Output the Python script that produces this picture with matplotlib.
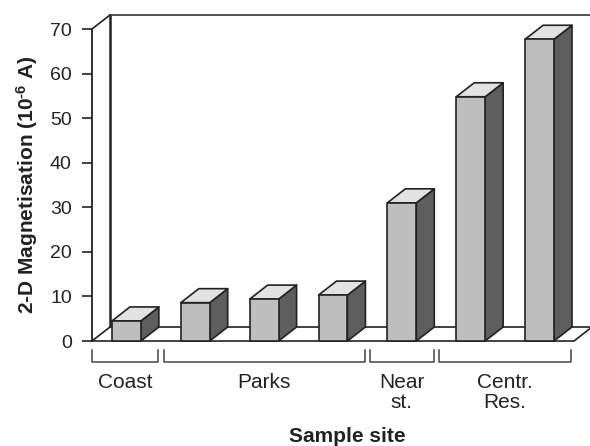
import matplotlib
matplotlib.use("Agg")
import matplotlib.pyplot as plt
from matplotlib.patches import Polygon, Rectangle

plt.rcParams['font.family'] = ['Liberation Sans', 'DejaVu Sans']
plt.rcParams['mathtext.default'] = 'regular'
plt.rcParams['mathtext.fontset'] = 'custom'
plt.rcParams['mathtext.rm'] = 'Liberation Sans:bold'

# ---- data ----
sites = ["Coast", "Park 1", "Park 2", "Park 3", "Near st.", "Centr. Res. 1", "Centr. Res. 2"]
magnetisation = [4.5, 8.6, 9.4, 10.3, 31.0, 54.8, 67.7]
group_labels = ["Coast", "Parks", "Near\nst.", "Centr.\nRes."]
group_spans = [(0, 0), (1, 3), (4, 4), (5, 6)]   # first/last category index
yticks = [0, 10, 20, 30, 40, 50, 60, 70]

# ---- style ----
front_c = "#bebebe"
side_c = "#5e5e5e"
top_c = "#e2e2e2"
edge_c = "#222222"
bar_w = 0.42
depth_x = 0.261   # 3D depth offset in x-data units
depth_y = 3.14    # 3D depth offset in y-data units

fig = plt.figure(figsize=(5.9, 4.46), dpi=100)
ax = fig.add_axes([92/590, 1-341/446, 482/590, 312/446])
ax.set_xlim(-0.5, 6.5)
ax.set_ylim(0, 70)

x0, x1 = -0.5, 6.5
ymax = 70
# back wall & left wall
ax.plot([x0+depth_x, x0+depth_x], [depth_y, ymax+depth_y], color=edge_c, lw=1.8, clip_on=False, zorder=1)
ax.plot([x0+depth_x, x1+depth_x+1], [ymax+depth_y, ymax+depth_y], color="#444444", lw=1.3, clip_on=False, zorder=1)
ax.plot([x0, x0+depth_x], [ymax, ymax+depth_y], color=edge_c, lw=1.2, clip_on=False, zorder=1)
# floor
floor = Polygon([(x0, 0), (x1, 0), (x1+depth_x, depth_y), (x0+depth_x, depth_y)],
                closed=True, facecolor="white", edgecolor=edge_c, lw=1.2, clip_on=False, zorder=2)
ax.add_patch(floor)

# bars
for i, v in enumerate(magnetisation):
    l, r = i - bar_w/2, i + bar_w/2
    side = Polygon([(r, 0), (r+depth_x, depth_y), (r+depth_x, v+depth_y), (r, v)], closed=True,
                   facecolor=side_c, edgecolor=edge_c, lw=1.2, clip_on=False, zorder=3, joinstyle='round')
    top = Polygon([(l, v), (r, v), (r+depth_x, v+depth_y), (l+depth_x, v+depth_y)], closed=True,
                  facecolor=top_c, edgecolor=edge_c, lw=1.2, clip_on=False, zorder=3, joinstyle='round')
    front = Rectangle((l, 0), bar_w, v, facecolor=front_c, edgecolor=edge_c, lw=1.2,
                      clip_on=False, zorder=4, joinstyle='round')
    ax.add_patch(side)
    ax.add_patch(top)
    ax.add_patch(front)

# axes styling
for s in ["top", "right", "bottom"]:
    ax.spines[s].set_visible(False)
ax.spines["left"].set_linewidth(1.3)
ax.spines["left"].set_color(edge_c)
ax.spines["left"].set_zorder(5)
ax.set_yticks(yticks)
ax.tick_params(axis='y', length=7.5, width=1.2, pad=7, labelsize=14, colors=edge_c)
ax.tick_params(axis='x', bottom=False, labelbottom=False)
ax.set_xticks([])
ax.patch.set_alpha(0)

# group brackets
tr = ax.get_xaxis_transform()
yb_top = -9/312
yb_bot = -20.5/312
gap = 0.04
for (a, b), lab in zip(group_spans, group_labels):
    xa = a - 0.5 + (gap if a > 0 else 0)
    xb = b + 0.5 - gap
    ax.plot([xa, xa, xb, xb], [yb_top, yb_bot, yb_bot, yb_top], color="#444444", lw=1.1,
            transform=tr, clip_on=False)
    xc = (xa + xb) / 2
    for k, line in enumerate(lab.split("\n")):
        ax.text(xc, (-42 - 20*k)/312, line, transform=tr, ha='center', va='center',
                fontsize=15, color="#222222")

fig.text(347/590, 1-436/446, "Sample site", ha='center', va='center', fontsize=15,
         fontweight='bold', color="#222222")
fig.text(27/590, 1-185/446, r"2-D Magnetisation (10$^{\text{-6}}$ A)", ha='center', va='center',
         rotation=90, fontsize=15, fontweight='bold', color="#222222")

fig.savefig("out.png", dpi=100)
